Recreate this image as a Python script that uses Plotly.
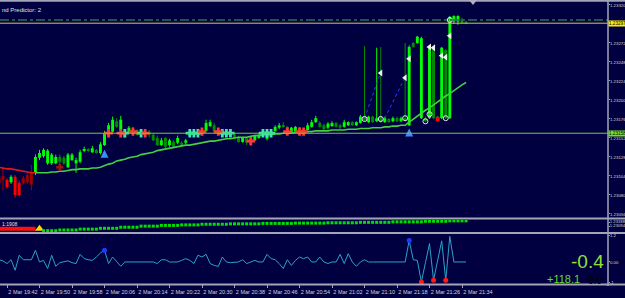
import plotly.graph_objects as go
import pandas as pd

# ---------------- data ----------------
start_time = "2012-03-02 19:40"   # first visible 1-minute bar

open_ = [1.23103, 1.23099, 1.23099, 1.23096, 1.23103, 1.23095, 1.23095, 1.23096, 1.23093, 1.23109,
         1.23127, 1.23129, 1.23120, 1.23120, 1.23120, 1.23128, 1.23127, 1.23115, 1.23124, 1.23120,
         1.23122, 1.23136, 1.23138, 1.23134, 1.23137, 1.23133, 1.23143, 1.23156, 1.23160, 1.23173,
         1.23162, 1.23161, 1.23158, 1.23163, 1.23162, 1.23157, 1.23160, 1.23160, 1.23156, 1.23152,
         1.23143, 1.23152, 1.23143, 1.23147, 1.23146, 1.23146, 1.23146, 1.23155, 1.23158, 1.23157,
         1.23157, 1.23161, 1.23167, 1.23168, 1.23161, 1.23157, 1.23158, 1.23158, 1.23156, 1.23153,
         1.23147, 1.23152, 1.23149, 1.23149, 1.23152, 1.23156, 1.23151, 1.23157, 1.23161, 1.23165,
         1.23168, 1.23166, 1.23158, 1.23160, 1.23165, 1.23162, 1.23162, 1.23166, 1.23172, 1.23171,
         1.23168, 1.23165, 1.23167, 1.23171, 1.23168, 1.23166, 1.23168, 1.23172, 1.23168, 1.23171,
         1.23179, 1.23172, 1.23179, 1.23173, 1.23179, 1.23172, 1.23176, 1.23173, 1.23177, 1.23173,
         1.23177, 1.23168, 1.23272, 1.23272, 1.23177, 1.23177, 1.23177, 1.23266, 1.23179, 1.23177,
         1.23263, 1.23177, 1.23299, 1.23299, 1.23302, 1.23299]
high = [1.23105, 1.23115, 1.23101, 1.23105, 1.23105, 1.23098, 1.23104, 1.23108, 1.23118, 1.23131,
        1.23137, 1.23139, 1.23138, 1.23133, 1.23131, 1.23131, 1.23129, 1.23133, 1.23133, 1.23127,
        1.23137, 1.23141, 1.23139, 1.23142, 1.23138, 1.23147, 1.23161, 1.23171, 1.23179, 1.23177,
        1.23180, 1.23163, 1.23167, 1.23166, 1.23163, 1.23162, 1.23161, 1.23162, 1.23158, 1.23155,
        1.23152, 1.23153, 1.23151, 1.23149, 1.23155, 1.23148, 1.23151, 1.23161, 1.23160, 1.23161,
        1.23163, 1.23175, 1.23175, 1.23171, 1.23162, 1.23160, 1.23160, 1.23160, 1.23157, 1.23155,
        1.23153, 1.23153, 1.23152, 1.23156, 1.23157, 1.23160, 1.23161, 1.23162, 1.23168, 1.23171,
        1.23172, 1.23167, 1.23166, 1.23167, 1.23166, 1.23163, 1.23171, 1.23175, 1.23180, 1.23173,
        1.23170, 1.23172, 1.23173, 1.23172, 1.23170, 1.23175, 1.23173, 1.23173, 1.23173, 1.23181,
        1.23268, 1.23180, 1.23180, 1.23266, 1.23267, 1.23179, 1.23177, 1.23179, 1.23179, 1.23179,
        1.23272, 1.23269, 1.23273, 1.23281, 1.23280, 1.23179, 1.23268, 1.23267, 1.23180, 1.23267,
        1.23264, 1.23306, 1.23307, 1.23307, 1.23304, 1.23300]
low = [1.23093, 1.23086, 1.23088, 1.23094, 1.23077, 1.23079, 1.23093, 1.23094, 1.23086, 1.23105,
       1.23124, 1.23127, 1.23118, 1.23118, 1.23119, 1.23119, 1.23118, 1.23114, 1.23123, 1.23108,
       1.23120, 1.23134, 1.23134, 1.23133, 1.23132, 1.23131, 1.23142, 1.23155, 1.23158, 1.23165,
       1.23161, 1.23152, 1.23157, 1.23157, 1.23155, 1.23155, 1.23156, 1.23153, 1.23148, 1.23142,
       1.23142, 1.23139, 1.23141, 1.23139, 1.23144, 1.23142, 1.23144, 1.23153, 1.23156, 1.23156,
       1.23155, 1.23160, 1.23166, 1.23158, 1.23156, 1.23156, 1.23156, 1.23155, 1.23151, 1.23146,
       1.23146, 1.23143, 1.23142, 1.23148, 1.23151, 1.23155, 1.23149, 1.23156, 1.23160, 1.23163,
       1.23165, 1.23158, 1.23157, 1.23158, 1.23158, 1.23158, 1.23161, 1.23165, 1.23171, 1.23165,
       1.23162, 1.23163, 1.23166, 1.23165, 1.23163, 1.23165, 1.23167, 1.23167, 1.23167, 1.23170,
       1.23173, 1.23171, 1.23171, 1.23172, 1.23171, 1.23171, 1.23171, 1.23172, 1.23172, 1.23172,
       1.23173, 1.23167, 1.23266, 1.23271, 1.23176, 1.23172, 1.23176, 1.23176, 1.23172, 1.23176,
       1.23176, 1.23176, 1.23296, 1.23295, 1.23296, 1.23296]
close = [1.23095, 1.23104, 1.23090, 1.23103, 1.23080, 1.23080, 1.23101, 1.23105, 1.23109, 1.23128,
         1.23133, 1.23137, 1.23136, 1.23131, 1.23128, 1.23122, 1.23120, 1.23131, 1.23131, 1.23124,
         1.23134, 1.23138, 1.23136, 1.23139, 1.23133, 1.23144, 1.23158, 1.23168, 1.23175, 1.23166,
         1.23175, 1.23153, 1.23165, 1.23160, 1.23156, 1.23161, 1.23157, 1.23156, 1.23149, 1.23143,
         1.23149, 1.23141, 1.23149, 1.23141, 1.23152, 1.23143, 1.23149, 1.23158, 1.23157, 1.23158,
         1.23161, 1.23171, 1.23172, 1.23160, 1.23158, 1.23158, 1.23157, 1.23156, 1.23152, 1.23147,
         1.23152, 1.23146, 1.23146, 1.23155, 1.23156, 1.23158, 1.23158, 1.23160, 1.23166, 1.23168,
         1.23166, 1.23160, 1.23165, 1.23166, 1.23160, 1.23160, 1.23168, 1.23172, 1.23177, 1.23166,
         1.23163, 1.23170, 1.23171, 1.23166, 1.23165, 1.23172, 1.23172, 1.23168, 1.23172, 1.23179,
         1.23175, 1.23179, 1.23172, 1.23177, 1.23172, 1.23177, 1.23172, 1.23177, 1.23173, 1.23177,
         1.23175, 1.23267, 1.23267, 1.23280, 1.23278, 1.23173, 1.23267, 1.23177, 1.23173, 1.23266,
         1.23177, 1.23305, 1.23306, 1.23306, 1.23297, 1.23297]

ma = [1.23115, 1.23114, 1.23113, 1.23113, 1.23112, 1.23111, 1.23110, 1.23109, 1.23108, 1.23108,
      1.23108, 1.23108, 1.23108, 1.23109, 1.23109, 1.23110, 1.23110, 1.23111, 1.23112, 1.23112,
      1.23113, 1.23113, 1.23113, 1.23114, 1.23114, 1.23115, 1.23117, 1.23119, 1.23120, 1.23123,
      1.23124, 1.23125, 1.23127, 1.23128, 1.23129, 1.23131, 1.23132, 1.23133, 1.23134, 1.23136,
      1.23137, 1.23138, 1.23139, 1.23140, 1.23141, 1.23142, 1.23143, 1.23143, 1.23144, 1.23145,
      1.23146, 1.23147, 1.23148, 1.23148, 1.23149, 1.23150, 1.23151, 1.23151, 1.23152, 1.23153,
      1.23153, 1.23153, 1.23154, 1.23155, 1.23155, 1.23156, 1.23156, 1.23156, 1.23157, 1.23157,
      1.23158, 1.23158, 1.23158, 1.23159, 1.23159, 1.23160, 1.23160, 1.23160, 1.23161, 1.23161,
      1.23161, 1.23161, 1.23162, 1.23162, 1.23162, 1.23162, 1.23163, 1.23163, 1.23163, 1.23164,
      1.23164, 1.23164, 1.23165, 1.23165, 1.23165, 1.23166, 1.23166, 1.23167, 1.23167, 1.23168,
      1.23168, 1.23172, 1.23176, 1.23180, 1.23183, 1.23187, 1.23190, 1.23194, 1.23198, 1.23201,
      1.23205, 1.23208, 1.23212, 1.23215, 1.23219, 1.23222]

osc = [0.10, 0.05, -0.07, 0.10, -0.37, 0.30, 0.10, 0.10, 0.10, 0.52,
       0.00, 0.07, -0.29, 0.30, -0.19, -0.03, 0.00, 0.05, -0.03, -0.07,
       0.34, 0.15, 0.10, 0.07, 0.22, 0.40, 0.52, -0.07, 0.22, 0.00,
       -0.19, 0.00, 0.00, 0.00, 0.00, 0.00, 0.00, 0.00, 0.00, -0.07,
       0.10, 0.10, 0.00, 0.00, 0.00, 0.07, 0.15, 0.07, -0.07, 0.30,
       0.22, 0.34, -0.07, -0.15, -0.20, 0.22, 0.00, -0.03, -0.03, 0.00,
       0.10, -0.07, 0.00, 0.07, 0.00, 0.00, 0.34, 0.15, 0.10, -0.07,
       -0.29, 0.10, -0.15, 0.07, 0.22, 0.15, 0.22, 0.00, 0.00, 0.22,
       0.00, -0.07, 0.00, 0.00, 0.34, -0.07, 0.37, 0.00, -0.19, 0.00,
       0.10, 0.00, 0.00, 0.00, 0.00, 0.00, 0.00, 0.00, 0.00, 0.00,
       0.00, 0.96, 0.10, 0.07, -0.89, -0.03, 0.82, -0.81, 0.05, 0.94,
       -0.81, 1.14, 0.00, 0.00, 0.00, 0.00]
osc_blue_bars = [26, 101]
osc_red_bars = [104, 107, 110]

# second window: red band, yellow arrow, green dots
band_bars = [0, 1, 2, 3, 4, 5, 6, 7, 8, 9]
band_value = [1.23031] * 10
flip_bar = [10]
flip_value = [1.23031]
trail_bars_first = 11
trail = [1.22984, 1.22984, 1.22984, 1.22984,
         1.23000, 1.23000, 1.23000, 1.23000, 1.23000,
         1.23020, 1.23020, 1.23020, 1.23020, 1.23020,
         1.23040, 1.23040, 1.23040, 1.23040, 1.23040,
         1.23065, 1.23065, 1.23065, 1.23065, 1.23065,
         1.23090, 1.23090, 1.23090, 1.23090, 1.23090,
         1.23108, 1.23108, 1.23108, 1.23108, 1.23108,
         1.23120, 1.23120, 1.23120, 1.23120, 1.23120,
         1.23135, 1.23135, 1.23135, 1.23135, 1.23135, 1.23135, 1.23135,
         1.23145, 1.23145, 1.23145, 1.23145, 1.23145, 1.23145, 1.23145, 1.23145,
         1.23155, 1.23155, 1.23155, 1.23155, 1.23155, 1.23155, 1.23155, 1.23155,
         1.23162, 1.23162, 1.23162, 1.23162, 1.23162, 1.23162, 1.23162, 1.23162,
         1.23170, 1.23170, 1.23170, 1.23170, 1.23170, 1.23170, 1.23170, 1.23170,
         1.23180, 1.23180, 1.23180, 1.23180, 1.23180, 1.23180, 1.23180, 1.23180,
         1.23192, 1.23192, 1.23192, 1.23192, 1.23192, 1.23192, 1.23192, 1.23192,
         1.23205, 1.23205, 1.23205, 1.23205, 1.23205, 1.23205,
         1.23215, 1.23215, 1.23215, 1.23215, 1.23215]

# price-chart signal marks
level_price = 1.23158
bid = 1.23297
ask = 1.23301
teal_cross_bars = [31, 35, 47, 48, 49, 55, 56, 57, 65, 66, 67]
teal_cross_price = [1.23158, 1.23158, 1.23158, 1.23158, 1.23158, 1.23158,
                    1.23158, 1.23158, 1.23158, 1.23158, 1.23158]
red_cross_bars = [27, 30, 33, 36, 50, 54, 62, 71, 74, 75]
red_cross_price = [1.23158, 1.23158, 1.23160, 1.23158, 1.23160, 1.23160,
                   1.23148, 1.23160, 1.23160, 1.23160]
dark_cross_bars = [15]
dark_cross_price = [1.23115]
tri_bars = [94, 100, 101, 106, 107, 109, 110, 111]
tri_price = [1.23234, 1.23228, 1.23252, 1.23267, 1.23266, 1.23256, 1.23254, 1.23281]
ring_bars = [90, 94, 100, 105, 106, 110, 111]
ring_price = [1.23176, 1.23176, 1.23177, 1.23173, 1.23182, 1.23177, 1.23301]
red_sq_bars = [108]
red_sq_price = [1.23176]
arrow_bars = [26, 101]
arrow_price = [1.23137, 1.23164]
dots_a_bars = [90, 94]
dots_a_price = [1.23177, 1.23235]
dots_b_bars = [95, 100]
dots_b_price = [1.23177, 1.23229]

price_ticks = [1.23056, 1.23080, 1.23104, 1.23128, 1.23152, 1.23176,
               1.23200, 1.23224, 1.23248, 1.23272, 1.23320]
pane2_ticks = [1.23188, 1.23094]
osc_ticks = [1.2, 0.0, -0.9]
osc_tick_text = ["1.2", "0.00", "-1"]
time_labels = ["19:42", "19:50", "19:58", "20:06", "20:14", "20:22", "20:30", "20:38",
               "20:46", "20:54", "21:02", "21:10", "21:18", "21:26", "21:34"]

# ---------------- styling ----------------
W, H = 625, 298
BG = "#000040"
GRID = "#a4a4b8"
TXT = "#d4d4d4"
SMALL = "Liberation Sans Narrow, Liberation Sans, sans-serif"
G_BULL, G_BEAR = "#00ff00", "#008c00"
R_BULL, R_BEAR = "#a00000", "#ff0000"
XR = 608 / W


def py(px):
    return 1 - px / H


n = len(close)
times = pd.date_range(start_time, periods=n, freq="min")
ts = [t.strftime("%Y-%m-%d %H:%M:%S") for t in times]
day = times[0].strftime("%Y-%m-%d")

up = []
for i in range(n):
    if i == 0:
        up.append(ma[1] >= ma[0])
    else:
        up.append(ma[i] >= ma[i - 1])
colors = []
for i in range(n):
    bull = close[i] >= open_[i]
    if up[i]:
        colors.append(G_BULL if bull else G_BEAR)
    else:
        colors.append(R_BULL if bull else R_BEAR)

bases = [min(o, c) for o, c in zip(open_, close)]
heights = [max(abs(c - o), 0.000008) for o, c in zip(open_, close)]

fig = go.Figure()

# wicks
for col in [G_BULL, G_BEAR, R_BULL, R_BEAR]:
    xs, ys = [], []
    for i in range(n):
        if colors[i] == col:
            xs += [ts[i], ts[i], None]
            ys += [low[i], high[i], None]
    fig.add_trace(go.Scatter(x=xs, y=ys, mode="lines", line=dict(color=col, width=1),
                             xaxis="x", yaxis="y", hoverinfo="skip"))
# bodies
fig.add_trace(go.Bar(x=ts, y=heights, base=bases, width=43000,
                     marker=dict(color=colors, line=dict(width=0)),
                     xaxis="x", yaxis="y", hoverinfo="skip"))

# moving average (red while falling, green while rising)
red_y = [ma[i] if (not up[i]) or (i > 0 and not up[i - 1]) else None for i in range(n)]
grn_y = [ma[i] if up[i] else None for i in range(n)]
fig.add_trace(go.Scatter(x=ts, y=red_y, mode="lines", line=dict(color="#e01818", width=1.6),
                         xaxis="x", yaxis="y", connectgaps=False))
fig.add_trace(go.Scatter(x=ts, y=grn_y, mode="lines", line=dict(color="#44d040", width=1.6),
                         xaxis="x", yaxis="y", connectgaps=False))

# dotted blue trend lines
for bb, pp in [(dots_a_bars, dots_a_price), (dots_b_bars, dots_b_price)]:
    fig.add_trace(go.Scatter(x=[ts[b] for b in bb], y=pp, mode="lines",
                             line=dict(color="#2a3cff", width=1, dash="dot"),
                             xaxis="x", yaxis="y"))


def marks(bars, prices, symbol, color, size, ax="y", line=None):
    m = dict(symbol=symbol, color=color, size=size)
    if line:
        m["line"] = line
    fig.add_trace(go.Scatter(x=[ts[b] for b in bars], y=prices, mode="markers",
                             marker=m, xaxis="x" if ax == "y" else "x" + ax[1:], yaxis=ax,
                             hoverinfo="skip"))


marks(teal_cross_bars, teal_cross_price, "cross", "#3ee6b0", 7)
marks(red_cross_bars, red_cross_price, "cross", "#ff3838", 7)
marks(dark_cross_bars, dark_cross_price, "cross", "#a01010", 6)
marks(tri_bars, tri_price, "triangle-left", "#f0f0f0", 6)
marks(ring_bars, ring_price, "circle-open", "#e8e8e8", 5, line=dict(color="#e8e8e8", width=1))
marks(red_sq_bars, red_sq_price, "square", "#ff0000", 4)
marks(arrow_bars, arrow_price, "arrow-up", "#3a8cff", 8)

# second window
fig.add_trace(go.Scatter(x=[ts[b] for b in band_bars], y=band_value, mode="lines",
                         line=dict(color="#ff1010", width=4), xaxis="x2", yaxis="y2"))
marks(flip_bar, flip_value, "triangle-up", "#ffd800", 8, ax="y2")
fig.add_trace(go.Scatter(x=ts[trail_bars_first:trail_bars_first + len(trail)], y=trail,
                         mode="markers", marker=dict(symbol="square", color="#00e000", size=3),
                         xaxis="x2", yaxis="y2"))

# oscillator window
fig.add_trace(go.Scatter(x=ts, y=osc, mode="lines", line=dict(color="#2aa2c8", width=1),
                         xaxis="x3", yaxis="y3"))
marks(osc_blue_bars, [osc[b] for b in osc_blue_bars], "circle", "#1a3cff", 5, ax="y3")
marks(osc_red_bars, [osc[b] for b in osc_red_bars], "circle", "#ff1a1a", 5, ax="y3")

# ---------------- layout ----------------
x0 = pd.Timestamp(day + " 19:42") - pd.Timedelta(seconds=7 / 4.0625 * 60)
x1 = x0 + pd.Timedelta(seconds=608 / 4.0625 * 60)
xr = [x0.strftime("%Y-%m-%d %H:%M:%S.%f"), x1.strftime("%Y-%m-%d %H:%M:%S.%f")]
tickv = [day + " " + t for t in time_labels]
tickt = [times[0].strftime("%-d %b ") + t for t in time_labels]

xbase = dict(domain=[0, XR], range=xr, type="date", showgrid=False, zeroline=False,
             showline=False, fixedrange=True, automargin=False)
ybase = dict(side="right", showgrid=False, zeroline=False, showline=False, ticks="outside",
             ticklen=1, tickcolor=GRID, automargin=False, ticklabelstandoff=-1,
             tickfont=dict(size=4.4, color=TXT, family=SMALL))

fig.update_layout(
    width=W, height=H, margin=dict(l=0, r=0, t=0, b=0, autoexpand=False),
    paper_bgcolor=BG, plot_bgcolor=BG, showlegend=False, hovermode=False,
    barmode="overlay",
    xaxis=dict(xbase, anchor="y", showticklabels=False),
    xaxis2=dict(xbase, anchor="y2", matches="x", showticklabels=False),
    xaxis3=dict(xbase, anchor="y3", matches="x", tickvals=tickv, ticktext=tickt,
                ticks="outside", ticklen=3, tickcolor=GRID, ticklabelshift=16,
                tickangle=0, ticklabelstandoff=-1,
                tickfont=dict(size=5.5, color=TXT, family="Liberation Sans")),
    yaxis=dict(ybase, anchor="x", domain=[py(218), py(3)], range=[1.230509, 1.233225],
               tickvals=price_ticks, ticktext=[f"{v:.5f}" for v in price_ticks]),
    yaxis2=dict(ybase, anchor="x2", domain=[py(232), py(220)], range=[1.22953, 1.23235],
                tickvals=pane2_ticks, ticktext=[f"{v:.5f}" for v in pane2_ticks],
                tickfont=dict(size=4.2, color=TXT, family=SMALL)),
    yaxis3=dict(ybase, anchor="x3", domain=[py(284), py(234)], range=[-0.98, 1.245],
                tickvals=osc_ticks, ticktext=osc_tick_text),
)

shapes = []
# price lines
shapes.append(dict(type="line", xref="paper", yref="y", x0=0, x1=XR, y0=level_price,
                   y1=level_price, line=dict(color="#6fd03c", width=1)))
shapes.append(dict(type="line", xref="paper", yref="y", x0=0, x1=XR, y0=ask, y1=ask,
                   line=dict(color="#2e6e5c", width=1.5, dash="dashdot")))
shapes.append(dict(type="line", xref="paper", yref="y", x0=0, x1=XR, y0=bid, y1=bid,
                   line=dict(color="#d8cc3a", width=1)))
# window borders
for yy in [0.8, 218.6, 232.9, 284.4]:
    shapes.append(dict(type="line", xref="paper", yref="paper", x0=0, x1=1, y0=py(yy),
                       y1=py(yy), line=dict(color=GRID, width=2)))
shapes.append(dict(type="line", xref="paper", yref="paper", x0=XR, x1=XR, y0=py(0),
                   y1=py(286), line=dict(color=GRID, width=1.5)))
# chart-shift marker
shapes.append(dict(type="path", xref="paper", yref="paper",
                   path=f"M {469/W},{py(0)} L {477/W},{py(0)} L {473/W},{py(5)} Z",
                   fillcolor="#b0b0c0", line=dict(width=0)))
fig.update_layout(shapes=shapes)

ann = [
    dict(text="nd Predictor: 2", x=0, y=py(10), xref="paper", yref="paper",
         xanchor="left", yanchor="middle", showarrow=False,
         font=dict(size=6, color="#e0e0e0", family="Liberation Sans")),
    dict(text="1:1908", x=0, y=py(224), xref="paper", yref="paper", xanchor="left",
         yanchor="middle", showarrow=False,
         font=dict(size=5, color="#e0e0e0", family="Liberation Sans")),
    dict(text=f"{bid:.5f}", x=XR, y=bid, xref="paper", yref="y", xanchor="left",
         yanchor="middle", showarrow=False, bgcolor="#f4ee10", borderpad=0,
         font=dict(size=4.6, color="#000000", family=SMALL)),
    dict(text=f"{level_price:.5f}", x=XR, y=level_price, xref="paper", yref="y",
         xanchor="left", yanchor="middle", showarrow=False, bgcolor="#72e030", borderpad=0,
         font=dict(size=4.6, color="#000000", family=SMALL)),
    dict(text="-0.4", x=606 / W, y=py(261), xref="paper", yref="paper", xanchor="right",
         yanchor="middle", showarrow=False,
         font=dict(size=19, color="#8fe038", family="Liberation Sans")),
    dict(text="+118.1", x=582 / W, y=py(279), xref="paper", yref="paper", xanchor="right",
         yanchor="middle", showarrow=False,
         font=dict(size=11, color="#66d830", family="Liberation Sans")),
    dict(text="0.0", x=604 / W, y=py(280), xref="paper", yref="paper", xanchor="right",
         yanchor="middle", showarrow=False,
         font=dict(size=10, color="#000000", family="Liberation Sans")),
]
fig.update_layout(annotations=ann)

fig.write_html("out.html")
